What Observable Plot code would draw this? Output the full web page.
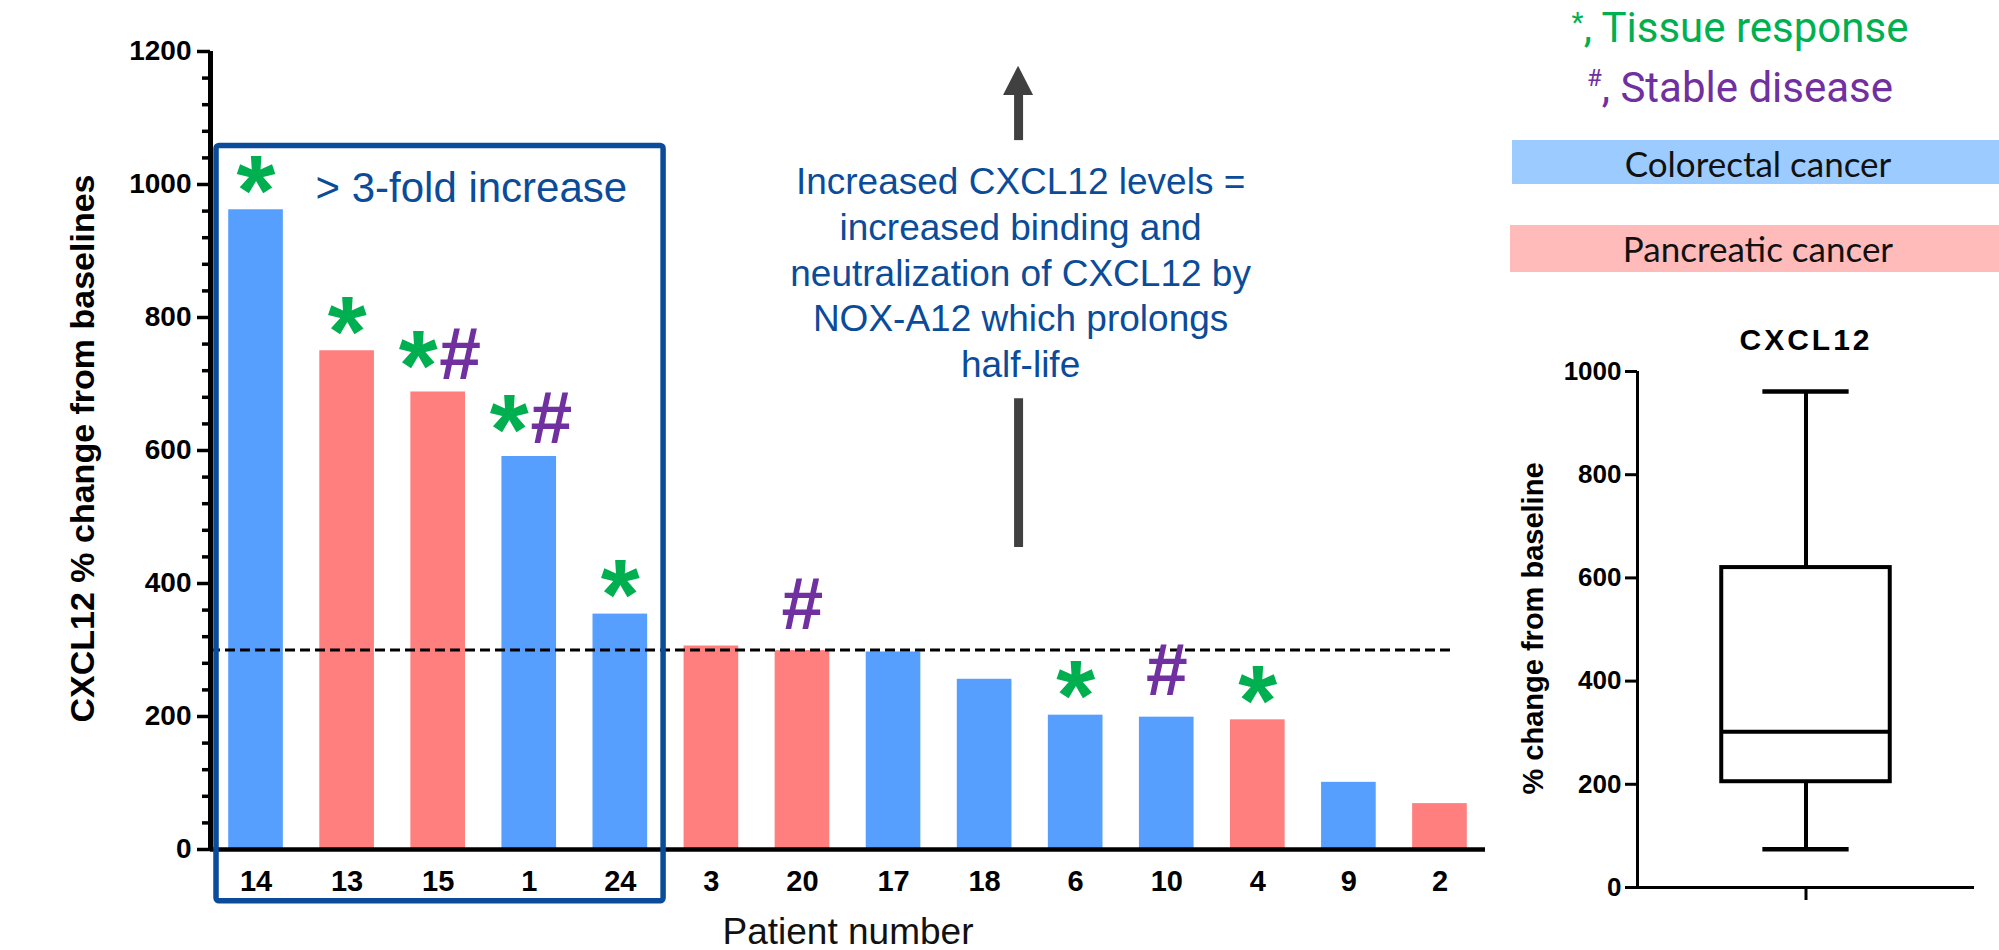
<!DOCTYPE html>
<html>
<head>
<meta charset="utf-8">
<script src="https://cdn.jsdelivr.net/npm/d3@7"></script>
<script src="https://cdn.jsdelivr.net/npm/@observablehq/plot@0.6"></script>
<style>
  html, body { margin: 0; padding: 0; background: #ffffff; }
  #wrap { position: relative; width: 1999px; height: 950px; overflow: hidden; background: #ffffff; }
  #wrap svg { position: absolute; }
</style>
</head>
<body>
<div id="wrap"></div>
<script>
// ---------------- data ----------------
const patients = ["14", "13", "15", "1", "24", "3", "20", "17", "18", "6", "10", "4", "9", "2"];
const changePct = [962, 750, 688, 591, 354, 306, 299, 297, 256, 202, 199, 195, 101, 69];
const cancerType = ["Colorectal cancer", "Pancreatic cancer", "Pancreatic cancer", "Colorectal cancer", "Colorectal cancer",
                    "Pancreatic cancer", "Pancreatic cancer", "Colorectal cancer", "Colorectal cancer", "Colorectal cancer",
                    "Colorectal cancer", "Pancreatic cancer", "Colorectal cancer", "Pancreatic cancer"];
const tissueResponse = [true, true, true, true, true, false, false, false, false, true, false, true, false, false];
const stableDisease  = [false, false, true, true, false, false, true, false, false, false, true, false, false, false];
const threshold = 300;
const majorTicks = [0, 200, 400, 600, 800, 1000, 1200];
const minorTicks = d3.range(40, 1200, 40).filter(v => v % 200 !== 0);
const cancerTypes = ["Colorectal cancer", "Pancreatic cancer"];

// box plot summary (as drawn)
const boxMin = 74, boxQ1 = 205, boxMedian = 302, boxQ3 = 620, boxMax = 961;
const boxTicks = [0, 200, 400, 600, 800, 1000];

const annotationText = "Increased CXCL12 levels =\nincreased binding and\nneutralization of CXCL12 by\nNOX-A12 which prolongs\nhalf-life";

// ---------------- styles ----------------
const BLUE = "#579FFF", PINK = "#FF7F7F";
const GREEN = "#00B050", PURPLE = "#7030A0", NAVY = "#0B4C9A", ARROW = "#404040";
const FONT = "'Liberation Sans', Arial, Helvetica, sans-serif";
const fmt = d => String(d);

const rows = patients.map((p, i) => ({
  i, patient: p, value: changePct[i], cancer: cancerType[i],
  tissue: tissueResponse[i], stable: stableDisease[i]
}));

const wrap = document.getElementById("wrap");

// ---------------- main chart ----------------
const arrowX = 8.373;
const main = Plot.plot({
  width: 1999, height: 950,
  marginLeft: 210, marginRight: 514, marginTop: 51, marginBottom: 101,
  style: { fontFamily: FONT, background: "transparent", overflow: "visible" },
  x: { type: "linear", domain: [-0.5, 13.5], axis: null },
  y: { domain: [0, 1200], axis: null },
  color: { domain: cancerTypes, range: [BLUE, PINK] },
  marks: [
    // bars
    Plot.rect(rows, { x1: d => d.i - 0.3, x2: d => d.i + 0.3, y1: 0, y2: "value", fill: "cancer" }),
    // threshold
    Plot.ruleY([threshold], { x1: -0.5, x2: 13.15, stroke: "#000", strokeWidth: 3, strokeDasharray: "10,5" }),
    // axes
    Plot.axisY({ ticks: minorTicks, tickSize: 8, tickFormat: () => "", strokeWidth: 3.5 }),
    Plot.axisY({ ticks: majorTicks, tickSize: 13, tickPadding: 6, tickFormat: fmt, fontSize: 28, fontWeight: "bold", strokeWidth: 3.5, fill: "#000", label: null }),
    Plot.ruleX([-0.5], { y1: 0, y2: 1200, stroke: "#000", strokeWidth: 5 }),
    Plot.ruleY([0], { x1: -0.5, x2: 13.5, stroke: "#000", strokeWidth: 4.5 }),
    Plot.text(rows, { x: "i", y: 0, text: "patient", dy: 41, lineAnchor: "bottom", fontSize: 29, fontWeight: "bold", fill: "#000" }),
    Plot.text(["Patient number"], { frameAnchor: "bottom", dy: 94, lineAnchor: "bottom", fontSize: 37, fill: "#111" }),
    Plot.text(["CXCL12 % change from baselines"], { frameAnchor: "left", y: 603, dx: -127, rotate: -90, textAnchor: "middle", fontSize: 34, fontWeight: "bold", fill: "#000" }),
    // > 3-fold box
    Plot.rect([0], { x1: -0.434, x2: 4.475, y1: -78, y2: 1058, fill: "none", stroke: NAVY, strokeWidth: 5.5, rx: 3 }),
    Plot.text(["> 3-fold increase"], { x: 0.653, y: 973, textAnchor: "start", lineAnchor: "bottom", fontSize: 42, fill: NAVY }),
    // response markers
    Plot.text(rows.filter(d => d.tissue && !d.stable), { x: "i", y: "value", text: () => "*", fontSize: 100, fontWeight: "bold", fill: GREEN, lineAnchor: "bottom", dy: 15 }),
    Plot.text(rows.filter(d => d.tissue && d.stable), { x: "i", y: "value", text: () => "*", fontSize: 100, fontWeight: "bold", fill: GREEN, lineAnchor: "bottom", dx: -20, dy: 8 }),
    Plot.text(rows.filter(d => d.stable && !d.tissue), { x: "i", y: "value", text: () => "#", fontSize: 75, fontWeight: "bold", fill: PURPLE, lineAnchor: "bottom", dy: -22 }),
    Plot.text(rows.filter(d => d.stable && d.tissue), { x: "i", y: "value", text: () => "#", fontSize: 75, fontWeight: "bold", fill: PURPLE, lineAnchor: "bottom", dx: 22, dy: -13 }),
    // arrow annotation
    Plot.areaY([{ x: arrowX - 0.165, a: 1134, b: 1134 }, { x: arrowX, a: 1134, b: 1178 }, { x: arrowX + 0.165, a: 1134, b: 1134 }],
      { x: "x", y1: "a", y2: "b", fill: ARROW, curve: "linear" }),
    Plot.ruleX([arrowX], { y1: 1066, y2: 1136, stroke: ARROW, strokeWidth: 9 }),
    Plot.ruleX([arrowX], { y1: 454, y2: 678, stroke: ARROW, strokeWidth: 9 }),
    Plot.text([annotationText], { x: 8.395, y: 1035, lineAnchor: "top", lineHeight: 1.24, fontSize: 37, fill: NAVY, textAnchor: "middle" })
  ]
});
main.style.left = "0px"; main.style.top = "0px";
wrap.appendChild(main);

// ---------------- box plot ----------------
const box = Plot.plot({
  width: 519, height: 650,
  marginLeft: 157, marginRight: 25, marginTop: 71, marginBottom: 63,
  style: { fontFamily: FONT, background: "transparent", overflow: "visible" },
  x: { type: "linear", domain: [0, 1], axis: null },
  y: { domain: [0, 1000], axis: null },
  marks: [
    Plot.axisY({ ticks: boxTicks, tickSize: 12, tickPadding: 4, tickFormat: fmt, fontSize: 26, fontWeight: "bold", strokeWidth: 3, fill: "#000", label: null }),
    Plot.ruleX([0], { y1: 0, y2: 1000, stroke: "#000", strokeWidth: 3 }),
    Plot.ruleY([0], { stroke: "#000", strokeWidth: 3 }),
    Plot.axisX({ ticks: [0.5], tickSize: 13, tickFormat: () => "", strokeWidth: 3 }),
    Plot.rect([0], { x1: 0.25, x2: 0.75, y1: boxQ1, y2: boxQ3, fill: "none", stroke: "#000", strokeWidth: 4 }),
    Plot.ruleY([boxMedian], { x1: 0.25, x2: 0.75, stroke: "#000", strokeWidth: 4 }),
    Plot.ruleX([0.5], { y1: boxQ3, y2: boxMax, stroke: "#000", strokeWidth: 4 }),
    Plot.ruleX([0.5], { y1: boxMin, y2: boxQ1, stroke: "#000", strokeWidth: 4 }),
    Plot.ruleY([boxMax, boxMin], { x1: 0.372, x2: 0.628, stroke: "#000", strokeWidth: 4.5 }),
    Plot.text(["CXCL12"], { x: 0.5, y: 1041, lineAnchor: "bottom", fontSize: 30, fontWeight: "bold", fill: "#000" }),
    Plot.text(["% change from baseline"], { frameAnchor: "left", y: 502, dx: -104, rotate: -90, textAnchor: "middle", fontSize: 29, fontWeight: "bold", fill: "#000" })
  ]
});
box.style.left = "1480px"; box.style.top = "300px";
wrap.appendChild(box);
box.querySelectorAll("text").forEach(t => {
  if (t.textContent === "CXCL12") t.setAttribute("letter-spacing", "3");
});

// ---------------- legend ----------------
const leg = d3.select(wrap).append("svg")
  .attr("width", 1999).attr("height", 950)
  .style("left", "0px").style("top", "0px").style("pointer-events", "none");

const t1 = leg.append("text").attr("x", 1740).attr("y", 42).attr("text-anchor", "middle")
  .attr("font-family", "Roboto, 'Open Sans', sans-serif").attr("font-size", 42).attr("fill", GREEN);
t1.append("tspan").attr("font-size", 28).attr("dy", -10).text("*");
t1.append("tspan").attr("dy", 10).text(", Tissue response");

const t2 = leg.append("text").attr("x", 1740).attr("y", 102).attr("text-anchor", "middle")
  .attr("font-family", "Roboto, 'Open Sans', sans-serif").attr("font-size", 42).attr("fill", PURPLE);
t2.append("tspan").attr("font-size", 24).attr("dy", -16).text("#");
t2.append("tspan").attr("dy", 16).text(", Stable disease");

leg.append("rect").attr("x", 1512).attr("y", 140).attr("width", 487).attr("height", 44).attr("fill", "#9CCBFF");
leg.append("text").attr("x", 1758).attr("y", 177).attr("text-anchor", "middle")
  .attr("font-family", "Lato, 'Open Sans', sans-serif").attr("font-size", 35).attr("fill", "#111").text(cancerTypes[0]);
leg.append("rect").attr("x", 1510).attr("y", 225).attr("width", 489).attr("height", 47).attr("fill", "#FFBABA");
leg.append("text").attr("x", 1758).attr("y", 262).attr("text-anchor", "middle")
  .attr("font-family", "Lato, 'Open Sans', sans-serif").attr("font-size", 35).attr("fill", "#111").text(cancerTypes[1]);
</script>
</body>
</html>
